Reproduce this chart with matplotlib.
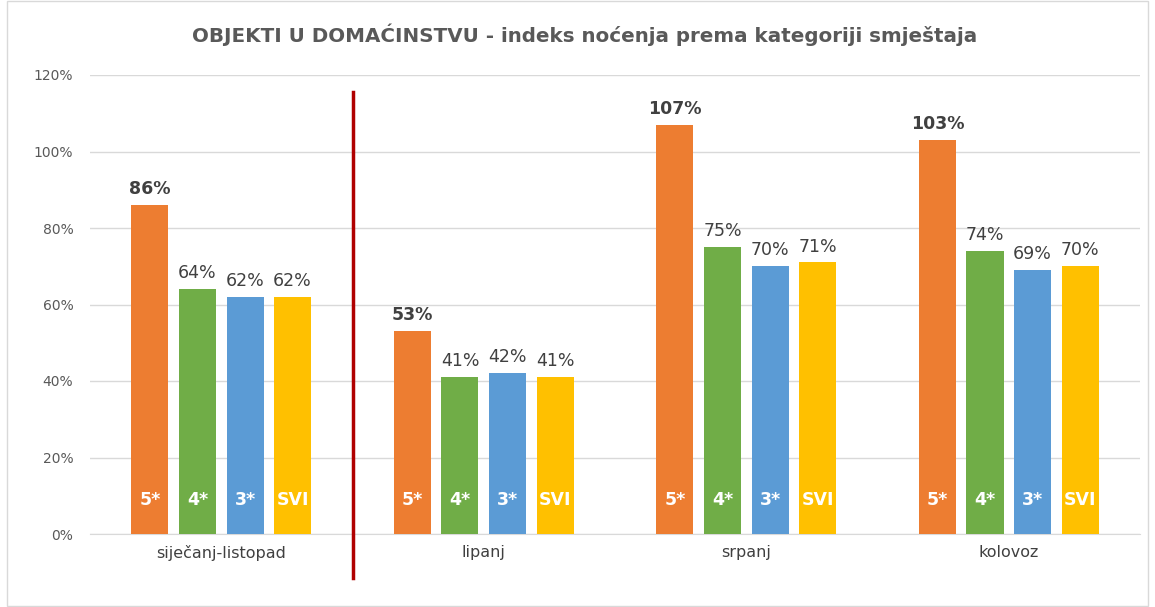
import numpy as np
import matplotlib.pyplot as plt
from matplotlib.patches import Rectangle

# Data
categories = ['siječanj-listopad', 'lipanj', 'srpanj', 'kolovoz']
series = ['5*', '4*', '3*', 'SVI']
values = {
    '5*': [86, 53, 107, 103],
    '4*': [64, 41, 75, 74],
    '3*': [62, 42, 70, 69],
    'SVI': [62, 41, 71, 70],
}
colors = ['#ED7D31', '#70AD47', '#5B9BD5', '#FFC000']

fig = plt.figure(figsize=(11.55, 6.07), dpi=100)
ax = fig.add_axes([90/1155, 1 - 534/607, 1050/1155, 459/607])

x = np.arange(len(categories))
width = 0.141
pitch = 0.181
offsets = (np.arange(len(series)) - 1.5) * pitch

for i, s in enumerate(series):
    xs = x + offsets[i]
    ax.bar(xs, values[s], width, color=colors[i], zorder=3)
    for xi, v in zip(xs, values[s]):
        ax.text(xi, v + 1.8, f'{v}%', ha='center', va='bottom',
                fontsize=12.5, color='#404040',
                fontweight='bold' if s == '5*' else 'normal')
        ax.text(xi, 9, s, ha='center', va='center', fontsize=12.5,
                color='white', fontweight='bold', zorder=4)

# red separator line
ax.plot([0.5, 0.5], [115.5, -11.5], color='#B00000', lw=2.5, clip_on=False, zorder=5)

ax.set_xlim(-0.5, len(categories) - 0.5)
ax.set_ylim(0, 120)
ax.set_yticks(np.arange(0, 121, 20))
ax.set_yticklabels([f'{t}%' for t in range(0, 121, 20)], fontsize=10, color='#595959')
ax.set_xticks(x)
ax.set_xticklabels(categories, fontsize=11.5, color='#404040')
ax.tick_params(length=0, pad=8)
ax.tick_params(axis='y', pad=12)
ax.grid(axis='y', color='#d9d9d9', lw=1, zorder=0)
for sp in ['top', 'right', 'left']:
    ax.spines[sp].set_visible(False)
ax.spines['bottom'].set_color('#d9d9d9')

fig.text(585/1155, 1 - 35/607, 'OBJEKTI U DOMAĆINSTVU - indeks noćenja prema kategoriji smještaja',
         ha='center', va='center', fontsize=14.3, fontweight='bold', color='#595959')

fig.patches.append(Rectangle((7/1155, 0.002), 1 - 14/1155, 0.996, transform=fig.transFigure,
                             fill=False, edgecolor='#d9d9d9', lw=1))

fig.savefig('out.png', dpi=100)
